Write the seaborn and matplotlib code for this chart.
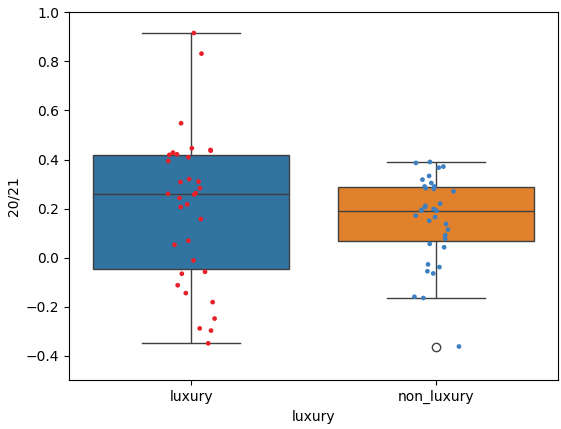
import numpy as np
import pandas as pd
import matplotlib
matplotlib.use('Agg')
import matplotlib.pyplot as plt
import seaborn as sns

# values
luxury_vals = [0.916, 0.832, 0.548, 0.446, 0.439, 0.436, 0.428, 0.421, 0.419, 0.409,
               0.394, 0.320, 0.310, 0.308, 0.283, 0.263, 0.260, 0.257, 0.243, 0.217,
               0.206, 0.157, 0.069, 0.052, -0.012, -0.058, -0.066, -0.113, -0.145,
               -0.182, -0.249, -0.289, -0.298, -0.350]
non_luxury_vals = [0.390, 0.386, 0.371, 0.367, 0.333, 0.318, 0.304, 0.290, 0.290, 0.283,
                   0.280, 0.270, 0.220, 0.211, 0.206, 0.198, 0.195, 0.191, 0.191, 0.171,
                   0.165, 0.150, 0.137, 0.114, 0.091, 0.076, 0.056, 0.042, -0.028,
                   -0.039, -0.056, -0.065, -0.160, -0.165, -0.363]
categories = ['luxury', 'non_luxury']

df = pd.DataFrame({
    'luxury': ['luxury'] * len(luxury_vals) + ['non_luxury'] * len(non_luxury_vals),
    '20/21': luxury_vals + non_luxury_vals,
})

np.random.seed(3)
fig = plt.figure(figsize=(5.61, 4.29), dpi=100)
ax = fig.add_axes([0.123, 0.114, 0.872, 0.857])

# box plot first, jittered points on top
sns.boxplot(data=df, x='luxury', y='20/21', hue='luxury', order=categories, ax=ax)
sns.stripplot(data=df, x='luxury', y='20/21', hue='luxury', order=categories,
              palette={'luxury': '#e8202a', 'non_luxury': '#3d7fc0'},
              size=3.4, legend=False, ax=ax)

ax.set_ylim(-0.5, 1.0)
ax.set_yticks([-0.4, -0.2, 0.0, 0.2, 0.4, 0.6, 0.8, 1.0])
if ax.get_legend() is not None:
    ax.get_legend().remove()

plt.savefig('out.png')
